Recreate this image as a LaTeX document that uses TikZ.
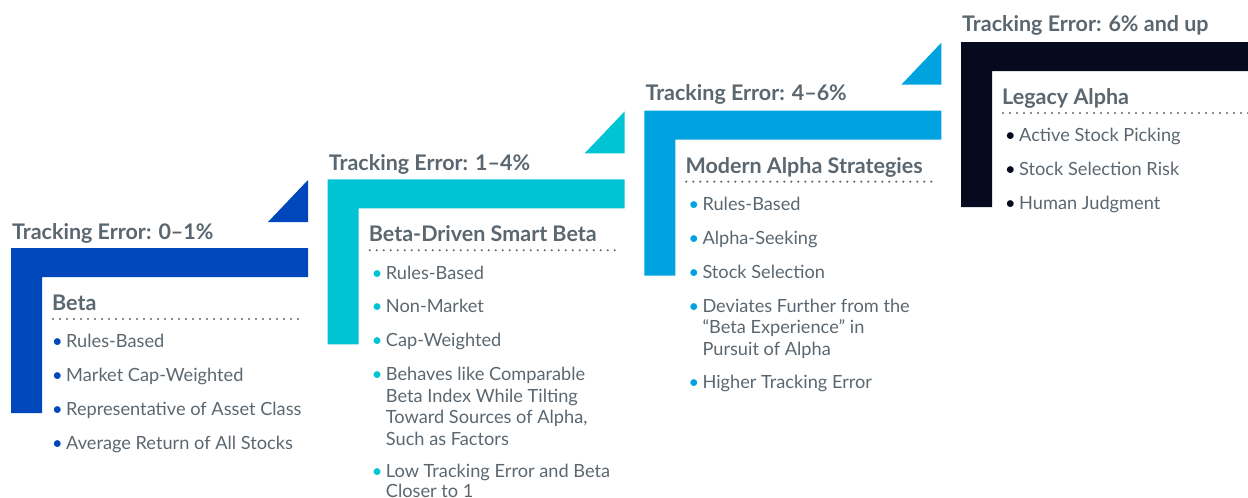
\documentclass[tikz,border=0pt]{standalone}
\usepackage{fontspec}
\setmainfont{Lato}
\usepackage{tikz}
\usetikzlibrary{positioning,calc}
\definecolor{betablue}{HTML}{0047BB}
\definecolor{smartcyan}{HTML}{00C4D4}
\definecolor{alphablue}{HTML}{00A3E0}
\definecolor{legacynavy}{HTML}{050A1E}
\definecolor{textgrey}{HTML}{5B6770}
\tikzstyle{title}=[font=\fontsize{21.5}{24}\selectfont\bfseries,text=textgrey,inner sep=0pt,anchor=base west]
\tikzstyle{header}=[title]
\tikzstyle{item}=[font=\fontsize{18.2}{21.5}\selectfont,text=textgrey,inner sep=0pt,anchor=north west,align=left]
\tikzstyle{dots}=[textgrey,line width=2.3pt,line cap=round,dash pattern=on 0pt off 7pt]
\newcommand{\bul}[1]{\makebox[14pt][l]{\textcolor{#1}{\textbullet}}}
\newcommand{\ind}{\hspace*{14pt}}

\begin{document}
\begin{tikzpicture}[x=1pt,y=-1pt]
\useasboundingbox (0,0) rectangle (1248,498);
\clip (0,0) rectangle (1248,498);

% the four steps: bar, post and corner triangle
\foreach \x/\y/\c in {11/248/betablue,327.7/179.3/smartcyan,644.3/110.7/alphablue,961/42/legacynavy}{
  \fill[\c] (\x,\y) -- ++(297,0) -- ++(0,29) -- ++(-266,0) -- ++(0,136) -- ++(-31,0) -- cycle;
}
\foreach \x/\y/\c in {11/248/betablue,327.7/179.3/smartcyan,644.3/110.7/alphablue}{
  \fill[\c] (\x+297,\y-68) -- ++(0,42) -- ++(-40,0) -- cycle;
}
\coordinate (s1) at (11,248);
\coordinate (s2) at (327.7,179.3);
\coordinate (s3) at (644.3,110.7);
\coordinate (s4) at (961,42);

% step 1
\node[above right=8.5pt and 1pt of s1,title] (te1) {Tracking Error: 0--1\%};
\node[below right=62.5pt and 41pt of s1,header] (h1) {Beta};
\draw[dots] ([shift={(42,71)}]s1) -- ++(252,0);
\node[below right=84.5pt and 41pt of s1,item] (r11) {\bul{betablue}Rules-Based\strut};
\node[below=12pt of r11.south west,item] (r12) {\bul{betablue}Market Cap-Weighted\strut};
\node[below=12pt of r12.south west,item] (r13) {\bul{betablue}Representative of Asset Class\strut};
\node[below=12pt of r13.south west,item] (r14) {\bul{betablue}Average Return of All Stocks\strut};

% step 2
\node[above right=9pt and 1pt of s2,title] (te2) {Tracking Error: 1--4\%};
\node[below right=62.5pt and 41pt of s2,header] (h2) {Beta-Driven Smart Beta};
\draw[dots] ([shift={(42,71)}]s2) -- ++(252,0);
\node[below right=84.5pt and 44pt of s2,item] (r21) {\bul{smartcyan}Rules-Based\strut};
\node[below=12pt of r21.south west,item] (r22) {\bul{smartcyan}Non-Market\strut};
\node[below=12pt of r22.south west,item] (r23) {\bul{smartcyan}Cap-Weighted\strut};
\node[below=12pt of r23.south west,item] (r24) {\bul{smartcyan}Behaves like Comparable\strut\\
  \ind Beta Index While Tilting\strut\\ \ind Toward Sources of Alpha,\strut\\ \ind Such as Factors\strut};
\node[below=10pt of r24.south west,item] (r25) {\bul{smartcyan}Low Tracking Error and Beta\strut\\[-1pt]
  \ind Closer to 1};

% step 3
\node[above right=10.5pt and 1pt of s3,title] (te3) {Tracking Error: 4--6\%};
\node[below right=62.5pt and 41pt of s3,header] (h3) {Modern Alpha Strategies};
\draw[dots] ([shift={(42,71)}]s3) -- ++(250,0);
\node[below right=84.5pt and 44pt of s3,item] (r31) {\bul{alphablue}Rules-Based\strut};
\node[below=12pt of r31.south west,item] (r32) {\bul{alphablue}Alpha-Seeking\strut};
\node[below=12pt of r32.south west,item] (r33) {\bul{alphablue}Stock Selection\strut};
\node[below=12pt of r33.south west,item] (r34) {\bul{alphablue}Deviates Further from the\strut\\
  \ind ``Beta Experience'' in\strut\\ \ind Pursuit of Alpha\strut};
\node[below=11pt of r34.south west,item] (r35) {\bul{alphablue}Higher Tracking Error\strut};

% step 4
\node[above right=11pt and 1pt of s4,title] (te4) {Tracking Error: 6\% and up};
\node[below right=62pt and 41pt of s4,header] (h4) {Legacy Alpha};
\draw[dots] ([shift={(42,71)}]s4) -- ++(300,0);
\node[below right=84pt and 44pt of s4,item] (r41) {\bul{legacynavy}Active Stock Picking\strut};
\node[below=12pt of r41.south west,item] (r42) {\bul{legacynavy}Stock Selection Risk\strut};
\node[below=12pt of r42.south west,item] (r43) {\bul{legacynavy}Human Judgment\strut};
\end{tikzpicture}
\end{document}
